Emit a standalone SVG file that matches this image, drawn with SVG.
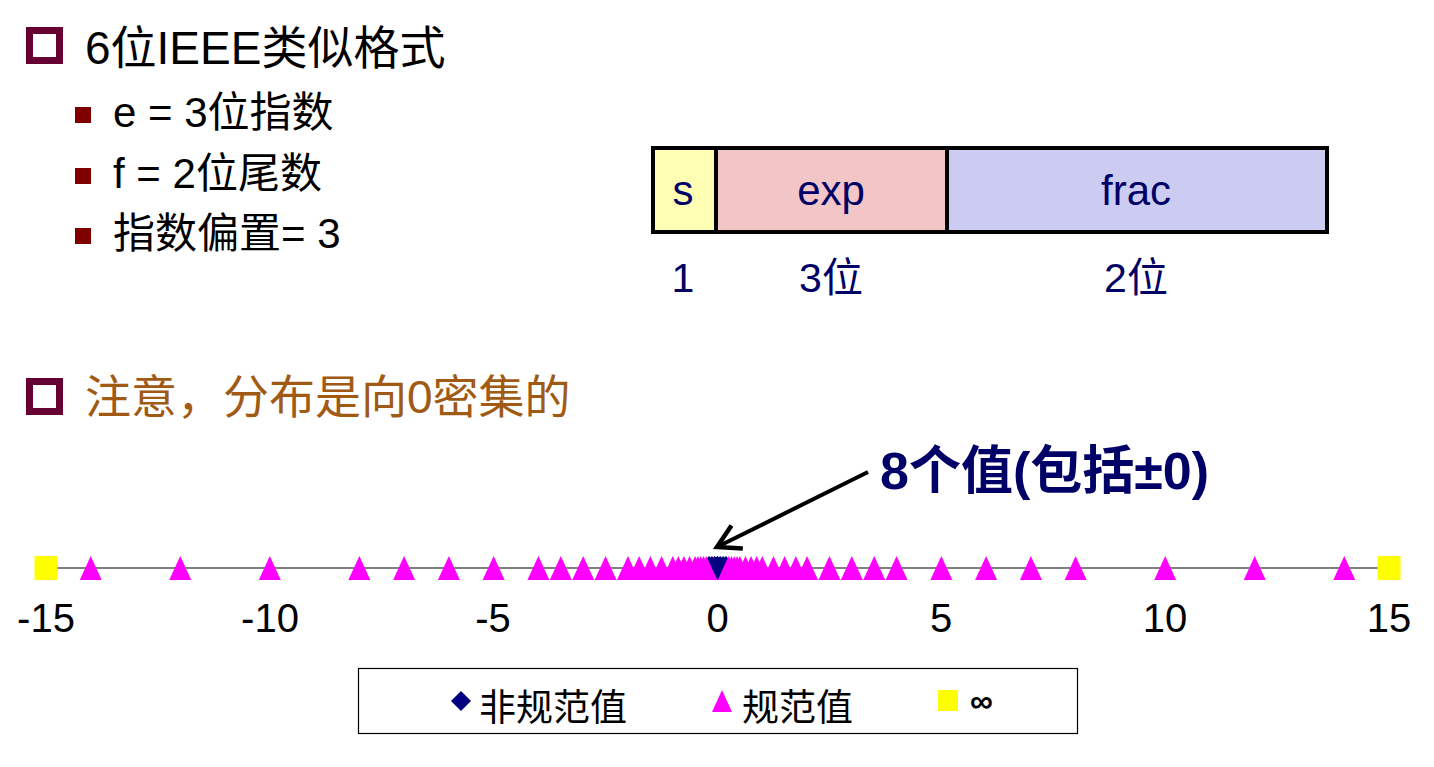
<svg xmlns="http://www.w3.org/2000/svg" xmlns:xlink="http://www.w3.org/1999/xlink" width="1434" height="767" viewBox="0 0 1434 767">
<style>
.t{font-family:"Liberation Sans","Noto Sans CJK SC",sans-serif;}
.blk{fill:#000;}
.navy{fill:#000066;}
.bx{stroke:#000;stroke-width:4;}
.tick{font-family:"Liberation Sans",sans-serif;font-size:40px;fill:#000;text-anchor:middle;}
.mid{text-anchor:middle;}
</style>
<defs>
<path id="tri" d="M0,-12 L11,12 L-11,12 Z" fill="#ff00ff"/>
<path id="dia" d="M0,-12 L11,0 L0,12 L-11,0 Z" fill="#000080"/>
<rect id="sq" x="-11.5" y="-12" width="23" height="24" fill="#ffff00"/>
<marker id="ah" viewBox="0 0 20 20" refX="17" refY="10" markerWidth="7.5" markerHeight="7.5" markerUnits="strokeWidth" orient="auto">
<path d="M2,1.5 L17,10 L2,18.5" fill="none" stroke="#000" stroke-width="3"/>
</marker>
</defs>
<rect width="1434" height="767" fill="#fff"/>

<g id="title1">
<rect x="29.5" y="30.5" width="30" height="30" fill="none" stroke="#660033" stroke-width="7"/>
<text class="t blk" x="85" y="64" font-size="46">6位IEEE类似格式</text>
</g>
<g id="bullets">
<rect x="75" y="107" width="16" height="16" fill="#800000"/>
<text class="t blk" x="113" y="127" font-size="42">e = 3位指数</text>
<rect x="75" y="168" width="16" height="16" fill="#800000"/>
<text class="t blk" x="113" y="188" font-size="42">f = 2位尾数</text>
<rect x="75" y="228" width="16" height="16" fill="#800000"/>
<text class="t blk" x="113" y="248" font-size="42">指数偏置= 3</text>
</g>

<g id="format-box">
<rect class="bx" x="653" y="148" width="63" height="84" fill="#ffffb4"/>
<rect class="bx" x="716" y="148" width="231" height="84" fill="#f2c6c6"/>
<rect class="bx" x="947" y="148" width="380" height="84" fill="#ccccf2"/>
<text class="t navy mid" x="683" y="205" font-size="42">s</text>
<text class="t navy mid" x="831" y="205" font-size="42">exp</text>
<text class="t navy mid" x="1136" y="205" font-size="42">frac</text>
<text class="t navy mid" x="683" y="292" font-size="41">1</text>
<text class="t navy mid" x="831" y="292" font-size="41">3位</text>
<text class="t navy mid" x="1136" y="292" font-size="41">2位</text>
</g>

<g id="title2">
<rect x="29.5" y="381.5" width="30" height="30" fill="none" stroke="#660033" stroke-width="7"/>
<text class="t" x="85" y="413" font-size="46" fill="#a05a14">注意，分布是向0密集的</text>
</g>

<g id="annotation">
<text class="t navy" x="880" y="489" font-size="52" font-weight="bold">8个值(包括±0)</text>
</g>

<g id="connectors">
<line x1="868" y1="472" x2="717" y2="547" stroke="#000" stroke-width="4" marker-end="url(#ah)"/>
</g>

<g id="axis">
<line x1="46" y1="568" x2="1389" y2="568" stroke="#808080" stroke-width="2"/>
<text class="tick" x="46" y="632">-15</text>
<text class="tick" x="270" y="632">-10</text>
<text class="tick" x="493" y="632">-5</text>
<text class="tick" x="717.5" y="632">0</text>
<text class="tick" x="941" y="632">5</text>
<text class="tick" x="1165" y="632">10</text>
<text class="tick" x="1389" y="632">15</text>
</g>

<g id="denormalized">
<use href="#dia" x="709.1" y="568"/>
<use href="#dia" x="711.9" y="568"/>
<use href="#dia" x="714.7" y="568"/>
<use href="#dia" x="717.5" y="568"/>
<use href="#dia" x="717.5" y="568"/>
<use href="#dia" x="720.3" y="568"/>
<use href="#dia" x="723.1" y="568"/>
<use href="#dia" x="725.9" y="568"/>
</g>

<g id="normalized">
<use href="#tri" x="90.72" y="568"/>
<use href="#tri" x="180.26" y="568"/>
<use href="#tri" x="269.8" y="568"/>
<use href="#tri" x="359.34" y="568"/>
<use href="#tri" x="404.11" y="568"/>
<use href="#tri" x="448.88" y="568"/>
<use href="#tri" x="493.65" y="568"/>
<use href="#tri" x="538.42" y="568"/>
<use href="#tri" x="560.8" y="568"/>
<use href="#tri" x="583.19" y="568"/>
<use href="#tri" x="605.57" y="568"/>
<use href="#tri" x="627.96" y="568"/>
<use href="#tri" x="639.15" y="568"/>
<use href="#tri" x="650.34" y="568"/>
<use href="#tri" x="661.54" y="568"/>
<use href="#tri" x="672.73" y="568"/>
<use href="#tri" x="678.33" y="568"/>
<use href="#tri" x="683.92" y="568"/>
<use href="#tri" x="689.52" y="568"/>
<use href="#tri" x="695.11" y="568"/>
<use href="#tri" x="697.91" y="568"/>
<use href="#tri" x="700.71" y="568"/>
<use href="#tri" x="703.51" y="568"/>
<use href="#tri" x="706.31" y="568"/>
<use href="#tri" x="728.69" y="568"/>
<use href="#tri" x="731.49" y="568"/>
<use href="#tri" x="734.29" y="568"/>
<use href="#tri" x="737.09" y="568"/>
<use href="#tri" x="739.89" y="568"/>
<use href="#tri" x="745.48" y="568"/>
<use href="#tri" x="751.08" y="568"/>
<use href="#tri" x="756.67" y="568"/>
<use href="#tri" x="762.27" y="568"/>
<use href="#tri" x="773.46" y="568"/>
<use href="#tri" x="784.66" y="568"/>
<use href="#tri" x="795.85" y="568"/>
<use href="#tri" x="807.04" y="568"/>
<use href="#tri" x="829.43" y="568"/>
<use href="#tri" x="851.81" y="568"/>
<use href="#tri" x="874.2" y="568"/>
<use href="#tri" x="896.58" y="568"/>
<use href="#tri" x="941.35" y="568"/>
<use href="#tri" x="986.12" y="568"/>
<use href="#tri" x="1030.89" y="568"/>
<use href="#tri" x="1075.66" y="568"/>
<use href="#tri" x="1165.2" y="568"/>
<use href="#tri" x="1254.74" y="568"/>
<use href="#tri" x="1344.28" y="568"/>
</g>

<g id="infinity">
<use href="#sq" x="46" y="568"/>
<use href="#sq" x="1389" y="568"/>
</g>

<g id="legend">
<rect x="358.5" y="668.5" width="719" height="65" fill="#fff" stroke="#000" stroke-width="1.2"/>
<path d="M461,691 L471,701 L461,711 L451,701 Z" fill="#000080"/>
<text class="t blk" x="479" y="721" font-size="37">非规范值</text>
<path d="M722,690 L732,712 L712,712 Z" fill="#ff00ff"/>
<text class="t blk" x="742" y="721" font-size="37">规范值</text>
<rect x="938" y="690" width="20" height="21" fill="#ffff00"/>
<text class="t blk" x="970" y="712" font-size="32" font-weight="bold">∞</text>
</g>
</svg>
